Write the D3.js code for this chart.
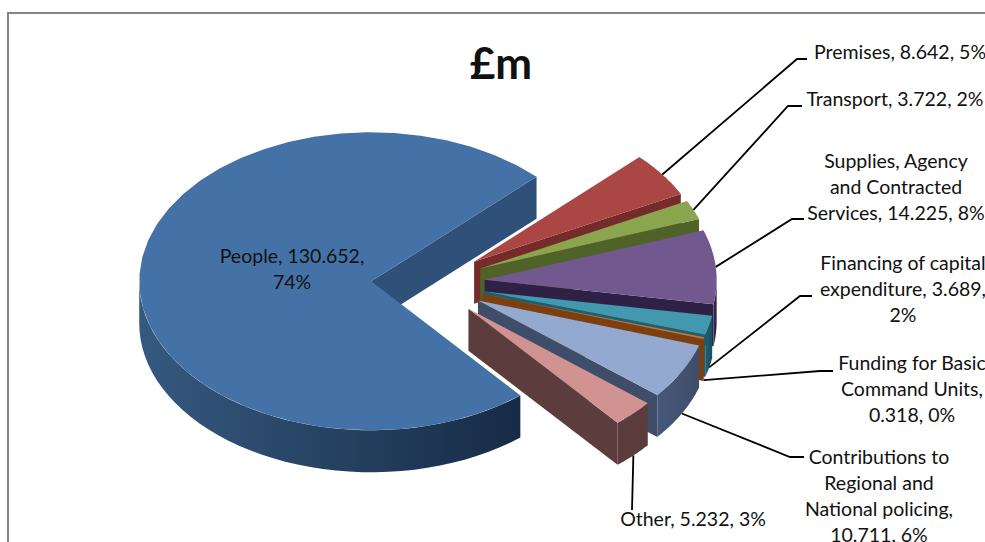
<!DOCTYPE html>
<html>
<head>
<meta charset="utf-8">
<script src="https://cdnjs.cloudflare.com/ajax/libs/d3/7.8.5/d3.min.js"></script>
<style>
  html, body { margin: 0; padding: 0; background: #fff; overflow: hidden; }
  svg { display: block; }
  text { font-family: Lato, "Open Sans", sans-serif; fill: #111; }
</style>
</head>
<body>
<svg id="chart" width="985" height="542"></svg>
<script>
// Budget breakdown, £m
const categories = ["People", "Premises", "Transport", "Supplies, Agency and Contracted Services",
  "Financing of capital expenditure", "Funding for Basic Command Units",
  "Contributions to Regional and National policing", "Other"];
const amounts = [130.652, 8.642, 3.722, 14.225, 3.689, 0.318, 10.711, 5.232];
const shares = ["74%", "5%", "2%", "8%", "2%", "0%", "6%", "3%"];
const labelLines = [
  ["People, 130.652,", "74%"],
  ["Premises, 8.642, 5%"],
  ["Transport, 3.722, 2%"],
  ["Supplies, Agency", "and Contracted", "Services, 14.225, 8%"],
  ["Financing of capital", "expenditure, 3.689,", "2%"],
  ["Funding for Basic", "Command Units,", "0.318, 0%"],
  ["Contributions to", "Regional and", "National policing,", "10.711, 6%"],
  ["Other, 5.232, 3%"]
];
const topColors = ["#4471a6", "#aa4643", "#89a54e", "#71588f", "#4198af", "#c9752f", "#93a9cf", "#d19392"];
const cutColors = ["#2f5078", "#752b2a", "#4f6329", "#2f2145", "#1f5f70", "#7d3f10", "#3e4d69", "#5c3c3c"];
const rimLight = ["#35597f", "#752b2a", "#4f6329", "#3a2b55", "#1f5f70", "#7d3f10", "#46587a", "#5c3c3c"];
const rimDark = ["#172b46", "#752b2a", "#4f6329", "#2a1d40", "#1a4f5e", "#7d3f10", "#3e4d69", "#5c3c3c"];

// Label placement: anchor centre x, first baseline y, and leader elbow points
const labelX = [292, 900, 895, 896, 903, 912, 879, 693];
const labelY = [263, 59, 106, 168, 270, 370, 464, 526];
const elbows = [null, [[797, 59], [807, 59]], [[788, 106], [802, 106]], [[792, 219], [804, 219]],
  [[800, 296], [812, 296]], [[820, 371], [833, 371]], [[790, 457], [804, 457]], [[632, 510]]];

const centerX = 428, centerY = 283, radiusX = 232, radiusY = 149;
const depth = 42, explode = 0.245, lineHeight = 26;

const svg = d3.select("#chart");
const defs = svg.append("defs");

// Chart frame runs past the right and bottom edges
svg.append("rect").attr("x", 8).attr("y", 13).attr("width", 1100).attr("height", 800)
  .attr("fill", "#fff").attr("stroke", "#868686").attr("stroke-width", 2);

svg.append("text").attr("x", 501).attr("y", 79).attr("text-anchor", "middle")
  .attr("font-size", 44).attr("font-weight", 700).text("£m");

// Pie angle 0 points right on screen; the first slice starts in the lower right
const startDeg = 50;
const pie = d3.pie().sort(null).value(d => d)
  .startAngle(startDeg * Math.PI / 180)
  .endAngle((startDeg + 360) * Math.PI / 180);
const slices = pie(amounts).map((s, i) => {
  const mid = (s.startAngle + s.endAngle) / 2;
  return {
    i, t0: s.startAngle, t1: s.endAngle, mid,
    ax: centerX + explode * radiusX * Math.cos(mid),
    ay: centerY + explode * radiusY * Math.sin(mid)
  };
});

const arcSamples = (s, a, b) => d3.range(0, 41).map(k => {
  const t = a + (b - a) * k / 40;
  return [s.ax + radiusX * Math.cos(t), s.ay + radiusY * Math.sin(t)];
});
const closedPath = d3.line().curve(d3.curveLinearClosed);

// Angular interval of the rim facing the viewer, in the slice's own revolution
function frontRim(s) {
  const out = [];
  for (let k = -1; k <= 2; k++) {
    const a = Math.max(s.t0, k * 2 * Math.PI), b = Math.min(s.t1, k * 2 * Math.PI + Math.PI);
    if (b > a) out.push([a, b]);
  }
  return out;
}

function drawSlice(s) {
  const g = svg.append("g").attr("class", "slice");
  // cut wall on the clockwise end of the slice
  const ex = s.ax + radiusX * Math.cos(s.t1), ey = s.ay + radiusY * Math.sin(s.t1);
  if (Math.cos(s.t1) > 0) {
    g.append("path")
      .attr("d", closedPath([[s.ax, s.ay], [ex, ey], [ex, ey + depth], [s.ax, s.ay + depth]]))
      .attr("fill", cutColors[s.i]);
  }
  // outer rim with a horizontal shade
  frontRim(s).forEach(([a, b], n) => {
    const top = arcSamples(s, a, b);
    const bottom = top.map(p => [p[0], p[1] + depth]).reverse();
    const xs = top.map(p => p[0]);
    const id = `rim-${s.i}-${n}`;
    const grad = defs.append("linearGradient").attr("id", id).attr("gradientUnits", "userSpaceOnUse")
      .attr("x1", d3.min(xs)).attr("x2", d3.max(xs)).attr("y1", 0).attr("y2", 0);
    grad.append("stop").attr("offset", 0).attr("stop-color", rimLight[s.i]);
    grad.append("stop").attr("offset", 1).attr("stop-color", rimDark[s.i]);
    g.append("path").attr("d", closedPath(top.concat(bottom))).attr("fill", `url(#${id})`);
  });
  // top face
  g.append("path")
    .attr("d", closedPath([[s.ax, s.ay]].concat(arcSamples(s, s.t0, s.t1))))
    .attr("fill", topColors[s.i]);
}

// Rearmost slices first; the large slice does not overlap the others
slices.slice(1).forEach(drawSlice);
drawSlice(slices[0]);

// Leader lines start on the slice's rim at its middle angle
const leader = d3.line();
slices.forEach(s => {
  if (!elbows[s.i]) return;
  const sx = s.ax + radiusX * Math.cos(s.mid);
  const sy = s.ay + radiusY * Math.sin(s.mid) + (Math.sin(s.mid) > 0 ? depth : 0);
  svg.append("path").attr("d", leader([[sx, sy]].concat(elbows[s.i])))
    .attr("fill", "none").attr("stroke", "#000").attr("stroke-width", 1.8);
});

// Data labels
labelLines.forEach((lines, i) => {
  const t = svg.append("text").attr("text-anchor", "middle").attr("font-size", 19.5);
  lines.forEach((line, k) => {
    t.append("tspan").attr("x", labelX[i]).attr("y", labelY[i] + k * lineHeight).text(line);
  });
});
</script>
</body>
</html>
